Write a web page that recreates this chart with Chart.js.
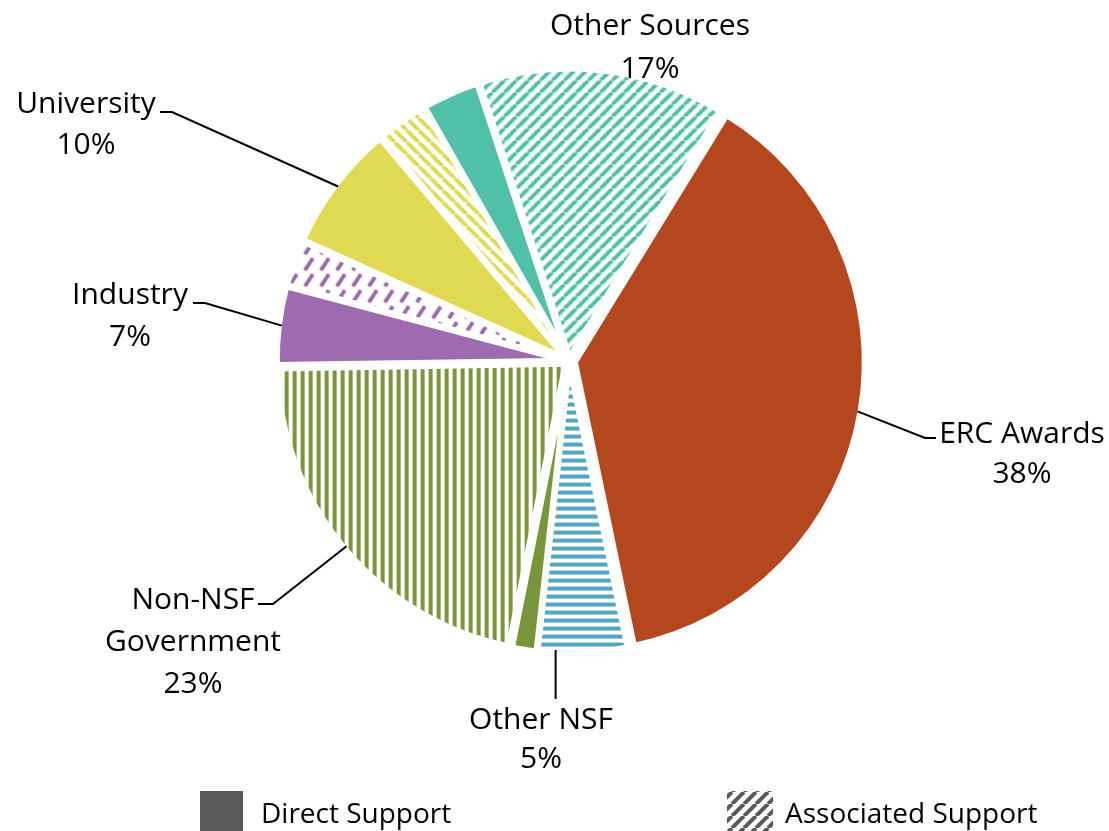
<!DOCTYPE html>
<html>
<head>
<meta charset="utf-8">
<title>Sources of Support</title>
<script src="https://cdn.jsdelivr.net/npm/chart.js@4/dist/chart.umd.min.js"></script>
<style>
  html, body { margin: 0; padding: 0; background: #fff; overflow: hidden; }
  #wrap { width: 1109px; height: 831px; }
</style>
</head>
<body>
<div id="wrap"><canvas id="chart" width="1109" height="831"></canvas></div>
<script>
// Funding categories, clockwise from the upper right
const categories = ['ERC Awards', 'Other NSF', 'Non-NSF Government', 'Industry', 'University', 'Other Sources'];
const labelLines = [['ERC Awards'], ['Other NSF'], ['Non-NSF', 'Government'], ['Industry'], ['University'], ['Other Sources']];
// Share of total support (%), as printed on each label
const totalShare = [38, 5, 23, 7, 10, 17];
// Split of each share into direct and associated support (%)
const directSupport = [38, 0, 1.4, 4.4, 7.1, 3.2];
const associatedSupport = [0, 5, 21.6, 2.6, 2.9, 13.8];
const supportTypes = ['Direct Support', 'Associated Support'];

// Styling
const categoryColors = ['#B5471F', '#4FA8C3', '#7A963A', '#9E6AB0', '#E0DA52', '#50C0A8'];
const hatchKinds = ['up', 'horizontal', 'vertical', 'dashUp', 'down', 'up'];
const LABEL_FONT = '30px "Open Sans", "Noto Sans", sans-serif';
const KEY_FONT = '28px "Open Sans", "Noto Sans", sans-serif';

function hatch(color, kind) {
  const s = kind === 'dashUp' ? 16 : (kind === 'up' || kind === 'down') ? 12 : 8;
  const c = document.createElement('canvas');
  c.width = s; c.height = s;
  const g = c.getContext('2d');
  g.fillStyle = '#fff';
  g.fillRect(0, 0, s, s);
  g.fillStyle = color;
  g.strokeStyle = color;
  if (kind === 'vertical') {
    g.fillRect(0, 0, 4, s);
  } else if (kind === 'horizontal') {
    g.fillRect(0, 0, s, 4);
  } else if (kind === 'up' || kind === 'down') {
    g.lineWidth = 4;
    g.beginPath();
    for (let k = -1; k <= 1; k++) {
      if (kind === 'up') { g.moveTo(k * s, s); g.lineTo(k * s + s, 0); }
      else { g.moveTo(k * s, 0); g.lineTo(k * s + s, s); }
    }
    g.stroke();
  } else if (kind === 'dashUp') {
    g.lineWidth = 4;
    g.beginPath();
    g.moveTo(3, 15); g.lineTo(11, 3);
    g.stroke();
  }
  return g.createPattern(c, 'repeat');
}

// One slice per category and support type: direct first, then associated
const sliceValues = categories.flatMap((_, i) => [directSupport[i], associatedSupport[i]]);
const sliceNames = categories.flatMap(c => supportTypes.map(t => c + ' – ' + t));
const sliceFills = categories.flatMap((_, i) => [categoryColors[i], hatch(categoryColors[i], hatchKinds[i])]);

// Label placement: text centre x, first baseline y, line step, which part the leader points at
const labelLayout = [
  { x: 1022, y: 443, lh: 40, part: 0, at: 0.5, leader: [[925, 438], [936, 438]] },
  { x: 541, y: 729, lh: 39, part: 1, at: 0.8, leader: 'down', to: 699 },
  { x: 193, y: 609, lh: 42, part: 1, at: 0.5, leader: [[273, 604], [258, 604]] },
  { x: 130, y: 304, lh: 42, part: 0, at: 0.5, leader: [[205, 303], [193, 303]] },
  { x: 86, y: 113, lh: 41, part: 0, at: 0.5, leader: [[172, 112], [160, 112]] },
  { x: 650, y: 35, lh: 43, part: 1, at: 0.5, leader: null }
];

const sliceLabels = {
  id: 'sliceLabels',
  afterDatasetsDraw(chart) {
    const ctx = chart.ctx;
    const arcs = chart.getDatasetMeta(0).data;
    ctx.save();
    ctx.font = LABEL_FONT;
    ctx.fillStyle = '#000';
    ctx.strokeStyle = '#000';
    ctx.lineWidth = 2;
    ctx.textAlign = 'center';
    ctx.textBaseline = 'alphabetic';
    labelLayout.forEach((lay, i) => {
      const lines = [...labelLines[i], totalShare[i] + '%'];
      lines.forEach((t, k) => ctx.fillText(t, lay.x, lay.y + k * lay.lh));
      if (!lay.leader) return;
      const arc = arcs[2 * i + lay.part];
      const p = arc.getProps(['x', 'y', 'startAngle', 'endAngle', 'outerRadius'], true);
      const shift = (arc.options.offset || 0) / 4;
      const span = p.endAngle - p.startAngle;
      const fix = 1 - Math.sin(Math.min(Math.PI, span));
      const mid = (p.startAngle + p.endAngle) / 2;
      const a = p.startAngle + span * lay.at;
      const r = p.outerRadius + shift * fix - arc.options.borderWidth / 2;
      const ax = p.x + Math.cos(mid) * shift + Math.cos(a) * r;
      const ay = p.y + Math.sin(mid) * shift + Math.sin(a) * r;
      ctx.beginPath();
      ctx.moveTo(ax, ay);
      if (lay.leader === 'down') ctx.lineTo(ax, lay.to);
      else lay.leader.forEach(q => ctx.lineTo(q[0], q[1]));
      ctx.stroke();
    });
    ctx.restore();
  }
};

// Two-entry key: solid swatch for direct, hatched swatch for associated support
const supportKey = {
  id: 'supportKey',
  afterDraw(chart) {
    const ctx = chart.ctx;
    ctx.save();
    ctx.font = KEY_FONT;
    ctx.textAlign = 'left';
    ctx.textBaseline = 'alphabetic';
    const swatches = [
      { fill: '#595959', box: [200, 791, 43, 46], text: 261 },
      { fill: hatch('#595959', 'up'), box: [727, 791, 46, 46], text: 785 }
    ];
    swatches.forEach((s, k) => {
      ctx.fillStyle = s.fill;
      ctx.fillRect(...s.box);
      ctx.fillStyle = '#000';
      ctx.fillText(supportTypes[k], s.text, 823);
    });
    ctx.restore();
  }
};

new Chart(document.getElementById('chart'), {
  type: 'pie',
  data: {
    labels: sliceNames,
    datasets: [{
      data: sliceValues,
      backgroundColor: sliceFills,
      borderColor: '#ffffff',
      borderWidth: 6,
      // larger slices are pulled further out from the centre
      offset: c => Math.min(24, 8 + 0.45 * c.raw)
    }]
  },
  options: {
    responsive: false,
    animation: false,
    events: [],
    rotation: 31.5,
    radius: 288,
    layout: { padding: { left: 29, right: 0, top: 0, bottom: 109 } },
    plugins: {
      legend: { display: false },
      tooltip: { enabled: false }
    }
  },
  plugins: [sliceLabels, supportKey]
});
</script>
</body>
</html>
